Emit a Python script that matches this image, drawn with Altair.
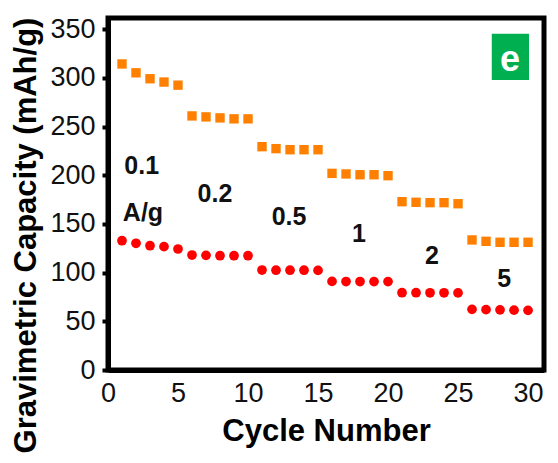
import altair as alt
import pandas as pd

# ---- data ----
cycles = list(range(1, 31))
charge = [314.4, 305.3, 299.2, 295.8, 292.6,
          261.0, 260.0, 259.0, 258.0, 258.0,
          229.4, 227.4, 226.3, 226.3, 226.3,
          202.0, 201.4, 200.6, 200.6, 199.6,
          172.9, 172.3, 171.9, 171.9, 170.8,
          133.6, 132.2, 131.2, 131.2, 131.2]
discharge = [132.8, 130.2, 127.7, 126.7, 124.3,
             118.1, 117.8, 117.4, 117.4, 117.4,
             102.7, 102.5, 102.5, 102.5, 102.3,
             91.0, 90.9, 90.9, 90.8, 90.8,
             79.4, 79.4, 79.3, 79.3, 79.2,
             62.3, 62.0, 61.8, 61.5, 61.3]

rate_labels = ["0.1", "A/g", "0.2", "0.5", "1", "2", "5"]
rate_x = [2.41, 2.5, 7.64, 12.93, 17.93, 23.14, 28.29]
rate_y = [209.6, 161.0, 180.8, 157.0, 139.7, 117.1, 93.5]

badge_text = ["e"]
badge_x1, badge_x2 = [27.41], [30.07]
badge_y1, badge_y2 = [297.9], [345.5]
badge_tx, badge_ty = [28.71], [318.8]

x_ticks = [0, 5, 10, 15, 20, 25, 30]
y_ticks = list(range(0, 351, 25))

x_domain = [0, 31.14]
y_domain = [0, 361.6]

FONT = "Liberation Sans"

pts = pd.DataFrame({"cycle": cycles, "charge": charge, "discharge": discharge})
labels = pd.DataFrame({"t": rate_labels, "x": rate_x, "y": rate_y})
badge = pd.DataFrame({"t": badge_text, "x1": badge_x1, "x2": badge_x2,
                      "y1": badge_y1, "y2": badge_y2,
                      "tx": badge_tx, "ty": badge_ty})

xscale = alt.Scale(domain=x_domain, nice=False, zero=False)
yscale = alt.Scale(domain=y_domain, nice=False, zero=False)

xaxis = alt.Axis(values=x_ticks, title="Cycle Number", grid=False,
                 domainWidth=5, domainColor="black", tickSize=0,
                 labelFont=FONT, labelFontSize=27, labelColor="#111",
                 labelPadding=10, labelFlush=False, labelOverlap=False,
                 titleFont=FONT, titleFontSize=31, titleFontWeight="bold",
                 titleColor="black", titleBaseline="alphabetic", titleY=70)

yaxis = alt.Axis(values=y_ticks, title="Gravimetric Capacity (mAh/g)", grid=False,
                 domainWidth=5, domainColor="black",
                 tickSize={"condition": {"test": "datum.value % 50 === 0", "value": 6}, "value": 4},
                 tickWidth={"condition": {"test": "datum.value % 50 === 0", "value": 4}, "value": 2},
                 tickColor={"condition": {"test": "datum.value % 50 === 0", "value": "black"}, "value": "#999"},
                 labelExpr="datum.value % 50 === 0 ? datum.label : ''",
                 labelFont=FONT, labelFontSize=27, labelColor="#111",
                 labelPadding=7, labelFlush=False, labelOverlap=False,
                 titleFont=FONT, titleFontSize=31, titleFontWeight="bold",
                 titleColor="black", titleAngle=270, titleAlign="center",
                 titleBaseline="alphabetic", titleX=-73, titleY=217)

base = alt.Chart(pts)

sq = base.mark_point(shape="square", filled=True, size=88, color="#FF8000", opacity=1).encode(
    x=alt.X("cycle:Q", scale=xscale, axis=xaxis),
    y=alt.Y("charge:Q", scale=yscale, axis=yaxis),
)
ci = base.mark_circle(size=95, color="#FF0000", opacity=1).encode(
    x=alt.X("cycle:Q", scale=xscale),
    y=alt.Y("discharge:Q", scale=yscale),
)
txt = alt.Chart(labels).mark_text(font=FONT, fontSize=25, fontWeight="bold",
                                  color="#111", baseline="middle", align="center").encode(
    x=alt.X("x:Q", scale=xscale),
    y=alt.Y("y:Q", scale=yscale),
    text="t:N",
)
brect = alt.Chart(badge).mark_rect(color="#00B050").encode(
    x=alt.X("x1:Q", scale=xscale), x2="x2:Q",
    y=alt.Y("y1:Q", scale=yscale), y2="y2:Q",
)
btxt = alt.Chart(badge).mark_text(font=FONT, fontSize=36, fontWeight="bold",
                                  color="white", baseline="middle", align="center").encode(
    x=alt.X("tx:Q", scale=xscale),
    y=alt.Y("ty:Q", scale=yscale),
    text="t:N",
)

chart = alt.layer(sq, ci, txt, brect, btxt).properties(
    width=436, height=352,
    autosize=alt.AutoSizeParams(type="none"),
    padding={"left": 100, "top": 10, "right": 6, "bottom": 85},
    background="white",
).configure_view(stroke="black", strokeWidth=5)

chart.save("out.html", embed_options={"renderer": "svg", "actions": False})
